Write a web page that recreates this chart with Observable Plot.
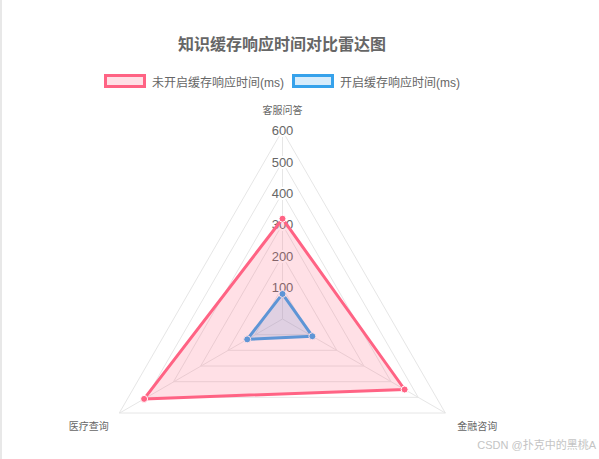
<!DOCTYPE html>
<html><head><meta charset="utf-8">
<script src="https://cdn.jsdelivr.net/npm/d3@7"></script>
<script src="https://cdn.jsdelivr.net/npm/@observablehq/plot@0.6"></script>
<style>
body{margin:0;background:#fff;font-family:"Liberation Sans","Noto Sans CJK SC",sans-serif;}
#wrap{position:relative;width:560px;height:459px;border-left:2px solid #e8e8e8;}
#title{margin:0;padding-top:31px;height:28px;line-height:28px;text-align:center;font-size:16px;font-weight:bold;color:#666;}
#legend{margin-top:14px;height:16px;display:flex;justify-content:center;align-items:center;font-size:12px;color:#666;}
.item{display:flex;align-items:center;margin:0 4px;}
.sw{width:42px;height:14px;box-sizing:border-box;border:3px solid;margin-right:6px;}
#chart{margin-top:6px;height:364px;}
#wm{position:absolute;right:3px;top:436px;font-size:11px;color:#c4c4c4;white-space:nowrap;font-family:"Liberation Sans","Noto Sans CJK SC",sans-serif;}
</style></head>
<body>
<div id="wrap">
  <div id="title"></div>
  <div id="legend"></div>
  <div id="chart"></div>
</div>
<div id="wm">CSDN @扑克中的黑桃A</div>
<script>
const titleText = "知识缓存响应时间对比雷达图";
const categories = ["客服问答", "金融咨询", "医疗查询"];
const seriesNames = ["未开启缓存响应时间(ms)", "开启缓存响应时间(ms)"];
const noCacheValues = [320, 450, 510];
const cacheValues = [80, 110, 130];
const tickValues = [100, 200, 300, 400, 500, 600];
const maxValue = 600;
const seriesColors = ["#ff6384", "#36a2eb"];
const seriesFills = ["rgba(255,99,132,0.2)", "rgba(54,162,235,0.2)"];

document.getElementById("title").textContent = titleText;
const legend = document.getElementById("legend");
seriesNames.forEach((name, i) => {
  const item = document.createElement("div");
  item.className = "item";
  const sw = document.createElement("div");
  sw.className = "sw";
  sw.style.borderColor = seriesColors[i];
  sw.style.background = seriesFills[i];
  const label = document.createElement("span");
  label.textContent = name;
  item.append(sw, label);
  legend.append(item);
});

const n = categories.length;
const angle = i => (2 * Math.PI * i) / n;
const px = (r, i) => r * Math.sin(angle(i));
const py = (r, i) => r * Math.cos(angle(i));

const grid = tickValues.flatMap(t => categories.map((c, i) => ({level: t, x: px(t, i), y: py(t, i)})));
const spokes = categories.map((c, i) => ({x2: px(maxValue, i), y2: py(maxValue, i)}));
const allSeries = [noCacheValues, cacheValues];
const seriesPts = allSeries.map((vals, s) => vals.map((v, i) => ({series: seriesNames[s], x: px(v, i), y: py(v, i)})));
const labelPts = categories.map((c, i) => ({name: c, i, x: px(maxValue, i), y: py(maxValue, i)}));

const R = 188, cx = 280, cy = 223.5;
const marks = [
  Plot.line(grid, {x: "x", y: "y", z: "level", curve: "linear-closed", stroke: "#e6e6e6", strokeWidth: 1}),
  Plot.link(spokes, {x1: () => 0, y1: () => 0, x2: "x2", y2: "y2", stroke: "#e6e6e6", strokeWidth: 1}),
  Plot.text(labelPts.filter(d => d.i === 0), {x: "x", y: "y", text: "name", dy: -20, fontSize: 10, fill: "#666"}),
  Plot.text(labelPts.filter(d => d.i === 1), {x: "x", y: "y", text: "name", dx: 12, dy: 14, textAnchor: "start", fontSize: 10, fill: "#666"}),
  Plot.text(labelPts.filter(d => d.i === 2), {x: "x", y: "y", text: "name", dx: -11, dy: 14, textAnchor: "end", fontSize: 10, fill: "#666"}),
  Plot.text(tickValues, {x: () => 0, y: d => d, text: d => String(d), fontSize: 13, fill: "#666", stroke: "white", strokeWidth: 4})
];
// draw second series first so first series is on top (Chart.js order)
[1, 0].forEach(s => {
  marks.push(Plot.line(seriesPts[s], {x: "x", y: "y", curve: "linear-closed", stroke: seriesColors[s], strokeWidth: 3, fill: seriesFills[s], strokeLinejoin: "miter"}));
  marks.push(Plot.dot(seriesPts[s], {x: "x", y: "y", r: 3.5, fill: seriesColors[s], stroke: "white", strokeWidth: 1}));
});

const chart = Plot.plot({
  width: 560,
  height: 364,
  margin: 0,
  x: {domain: [-maxValue, maxValue], range: [cx - R, cx + R], axis: null},
  y: {domain: [-maxValue, maxValue], range: [cy + R, cy - R], axis: null},
  style: {fontFamily: '"Liberation Sans","Noto Sans CJK SC",sans-serif', background: "white", overflow: "visible"},
  marks
});
document.getElementById("chart").append(chart);
</script>
</body></html>
